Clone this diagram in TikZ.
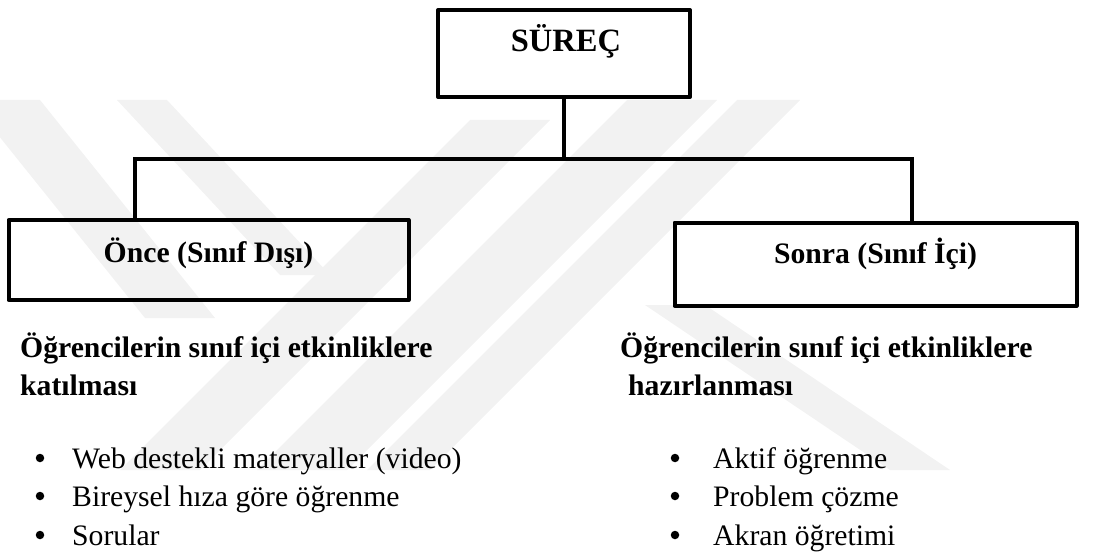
\documentclass[tikz,border=0pt]{standalone}
\usepackage{fontspec}
\setmainfont{Liberation Serif}
\begin{document}
\begin{tikzpicture}[x=1pt,y=-1pt,
  frame/.style={draw=black, line width=4pt, line join=round, inner sep=0pt},
  conn/.style={draw=black, line width=4pt, line join=miter},
  plain/.style={inner sep=0pt, font=\fontsize{29.7}{36}\selectfont},
  head/.style={inner sep=0pt, font=\fontsize{29.7}{36}\selectfont\bfseries},
  bul/.style={circle, fill=black, inner sep=0pt, minimum size=8.5pt},
  wm/.style={fill=black!5, draw=none}
]
\useasboundingbox (0,0) rectangle (1117,559);

% faint background stripes
\fill[wm] (-30,100) -- (40,100) -- (215,318) -- (145,318) -- cycle;
\fill[wm] (117,100) -- (167,100) -- (330,275) -- (280,275) -- cycle;
\fill[wm] (470,120) -- (550,120) -- (200,470) -- (120,470) -- cycle;
\fill[wm] (627,100) -- (717,100) -- (347,470) -- (257,470) -- cycle;
\fill[wm] (737,100) -- (800,100) -- (430,470) -- (367,470) -- cycle;
\fill[wm] (645,305) -- (705,305) -- (950,470) -- (890,470) -- cycle;

% boxes
\node[frame, minimum width=252pt, minimum height=87pt] (sur) at (564,53.5) {};
\node[frame, minimum width=400pt, minimum height=80pt] (once) at (208.5,260) {};
\node[frame, minimum width=402pt, minimum height=83pt] (sonra) at (875.5,264) {};

% box titles
\node[head, font=\fontsize{32.5}{38}\selectfont\bfseries, anchor=base] (surt) at (566,52) {SÜREÇ};
\node[head, anchor=base] (oncet) at (208.5,262) {Önce (Sınıf Dışı)};
\node[head, anchor=base] (sonrat) at (875.5,263) {Sonra (Sınıf İçi)};

% connectors
\coordinate (jl) at (135,159);
\coordinate (jr) at (912,159);
\draw[conn] (sur.south) -- (sur.south |- jl);
\draw[conn] (once.north -| jl) -- (jl) -- (jr) -- (sonra.north -| jr);

% left column
\node[head, anchor=base west] (lh1) at (20,357) {Öğrencilerin sınıf içi etkinliklere};
\node[head, anchor=base west] (lh2) at (20,395) {katılması};
\node[bul] (lb1) at (40,458) {};
\node[bul] (lb2) at (40,496) {};
\node[bul] (lb3) at (40,535) {};
\node[plain, anchor=base west] (li1) at (72,468) {Web destekli materyaller (video)};
\node[plain, anchor=base west] (li2) at (72,506) {Bireysel hıza göre öğrenme};
\node[plain, anchor=base west] (li3) at (72,545) {Sorular};

% right column
\node[head, anchor=base west] (rh1) at (620,357) {Öğrencilerin sınıf içi etkinliklere};
\node[head, anchor=base west] (rh2) at (628,395) {hazırlanması};
\node[bul] (rb1) at (675,458) {};
\node[bul] (rb2) at (675,496) {};
\node[bul] (rb3) at (675,535) {};
\node[plain, anchor=base west] (ri1) at (713,468) {Aktif öğrenme};
\node[plain, anchor=base west] (ri2) at (713,506) {Problem çözme};
\node[plain, anchor=base west] (ri3) at (713,545) {Akran öğretimi};
\end{tikzpicture}
\end{document}
